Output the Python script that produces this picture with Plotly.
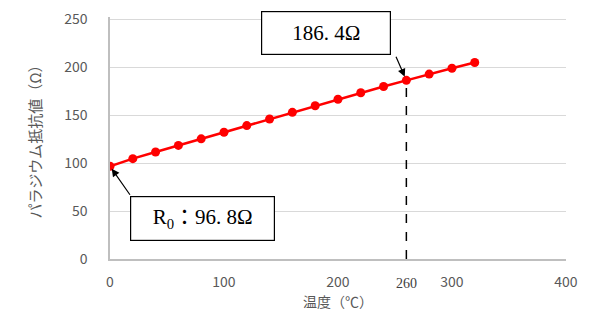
import plotly.graph_objects as go

temps = [0, 20, 40, 60, 80, 100, 120, 140, 160, 180, 200, 220, 240, 260, 280, 300, 320]
resist = [96.8, 104.7, 111.6, 118.5, 125.4, 132.3, 139.2, 146.1, 153.0, 159.9, 166.7, 173.5, 180.0, 186.4, 192.9, 199.0, 205.0]
x_ticks = [0, 100, 200, 300, 400]
y_ticks = [0, 50, 100, 150, 200, 250]
mark_t = 260
mark_r = 186.4
r0 = 96.8

sans = "Noto Sans CJK JP"
serif = "Liberation Serif, Noto Sans CJK JP"

fig = go.Figure()
fig.add_trace(go.Scatter(
    x=temps, y=resist, mode="lines+markers",
    line=dict(color="#ff0000", width=2.5),
    marker=dict(color="#ff0000", size=9),
    showlegend=False, hoverinfo="skip"))
fig.add_trace(go.Scatter(
    x=[mark_t, mark_t], y=[0, mark_r], mode="lines",
    line=dict(color="black", width=1.5, dash="dash"),
    showlegend=False, hoverinfo="skip"))

# page body has an 8px default margin, so the figure is sized to fit inside it
fig.update_layout(
    width=582, height=314,
    margin=dict(l=102, r=24, t=9, b=63),
    paper_bgcolor="white", plot_bgcolor="white",
    font=dict(family=sans, color="#595959", size=14),
    xaxis=dict(range=[0, 400.05], tickvals=x_ticks, showgrid=False,
               showline=True, linecolor="#bfbfbf", linewidth=1.5,
               zeroline=False, ticks="", ticklen=0, automargin=False,
               ticklabelstandoff=9, ticklabeloverflow="allow",
               tickfont=dict(size=14, color="#595959"),
               title=dict(text="温度（℃）", font=dict(size=14, color="#595959"), standoff=2)),
    yaxis=dict(range=[0, 252.5], tickvals=y_ticks, showgrid=True,
               gridcolor="#d9d9d9", gridwidth=1,
               showline=True, linecolor="#bfbfbf", linewidth=1.5,
               zeroline=False, ticks="", ticklen=0, automargin=False,
               ticklabelstandoff=18, ticklabeloverflow="allow",
               tickfont=dict(size=14, color="#595959"),
               title=dict(text="パラジウム抵抗値（Ω）", font=dict(size=15, color="#595959"), standoff=19)),
)

# 186.4 arrow
fig.add_annotation(
    x=mark_t, y=mark_r, xref="x", yref="y",
    ax=-11, ay=-25, axref="pixel", ayref="pixel",
    showarrow=True, arrowhead=2, arrowsize=1.3, arrowwidth=1.2, arrowcolor="black",
    standoff=4, text="")
fig.add_annotation(
    x=(261 - 110) / 456 * 400, y=(259 - 33) / 240 * 250,
    xref="x", yref="y", xanchor="left", yanchor="middle",
    text="186. 4Ω", showarrow=False,
    font=dict(family=serif, size=21, color="black"),
    bordercolor="black", borderwidth=1.2, bgcolor="white",
    width=126, height=40, align="center")
# R0 arrow
fig.add_annotation(
    x=0, y=r0, xref="x", yref="y",
    ax=21, ay=30, axref="pixel", ayref="pixel",
    showarrow=True, arrowhead=2, arrowsize=1.3, arrowwidth=1.2, arrowcolor="black",
    standoff=3, text="")
fig.add_annotation(
    x=(130 - 110) / 456 * 400, y=(259 - 218.5) / 240 * 250,
    xref="x", yref="y", xanchor="left", yanchor="middle",
    text="R<sub>0</sub>：96. 8Ω", showarrow=False,
    font=dict(family=serif, size=21, color="black"),
    bordercolor="black", borderwidth=1.2, bgcolor="white",
    width=141, height=41, align="center")
# 260 label
fig.add_annotation(
    x=mark_t, y=0, xref="x", yref="y", yanchor="top", yshift=-15,
    text=str(mark_t), showarrow=False,
    font=dict(family=serif, size=14, color="#404040"))

fig.write_html("out.html")
